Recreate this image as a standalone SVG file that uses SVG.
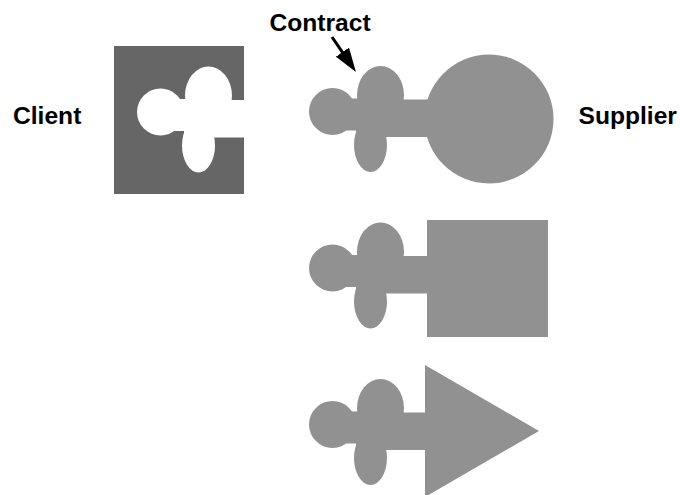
<svg xmlns="http://www.w3.org/2000/svg" xmlns:xlink="http://www.w3.org/1999/xlink" width="680" height="495" viewBox="0 0 680 495">
  <style>
    .label { font-family: "Liberation Sans", Arial, Helvetica, sans-serif; font-weight: bold; font-size: 24.6px; fill: #000; }
    .part { fill: #919191; }
    .socket { fill: #666666; }
    .hole { fill: #ffffff; }
    .pointer { stroke: #000; stroke-width: 3; fill: none; }
  </style>
  <defs>
    <!-- contract plug: knob, neck, two lobes and the stem into the body -->
    <g id="plug">
      <circle cx="332.5" cy="111.5" r="23.5"/>
      <rect x="344" y="98.5" width="16" height="32"/>
      <ellipse cx="380.5" cy="95" rx="23.5" ry="29"/>
      <ellipse cx="370.5" cy="145" rx="16.5" ry="27"/>
      <rect x="356" y="99.5" width="74" height="37.5"/>
    </g>
    <marker id="head" viewBox="0 0 24 16" refX="5" refY="8" markerWidth="24" markerHeight="16" markerUnits="userSpaceOnUse" orient="auto">
      <path d="M0,0 L24,8 L0,16 z" fill="#000"/>
    </marker>
  </defs>

  <!-- client: socket block with the plug shape cut out -->
  <g id="client">
    <rect class="socket" x="114" y="46" width="130" height="148"/>
    <use xlink:href="#plug" class="hole" transform="translate(-172,0.5)"/>
    <text class="label" x="13" y="124">Client</text>
  </g>

  <!-- supplier with round body -->
  <g id="supplier-circle" class="part">
    <use xlink:href="#plug"/>
    <circle cx="489" cy="119" r="64.5"/>
  </g>
  <text id="supplier-label" class="label" x="578.5" y="124">Supplier</text>

  <!-- supplier with square body -->
  <g id="supplier-square" class="part">
    <use xlink:href="#plug" transform="translate(0,156.5)"/>
    <rect x="427" y="220" width="121" height="117"/>
  </g>

  <!-- supplier with triangular body -->
  <g id="supplier-triangle" class="part">
    <use xlink:href="#plug" transform="translate(0,313)"/>
    <polygon points="425,365 539,431 425,497"/>
  </g>

  <g id="contract-label">
    <text class="label" x="269.5" y="31">Contract</text>
  </g>

  <g id="connectors">
    <path class="pointer" d="M332,37 L345.2,56.3" marker-end="url(#head)"/>
  </g>
</svg>
